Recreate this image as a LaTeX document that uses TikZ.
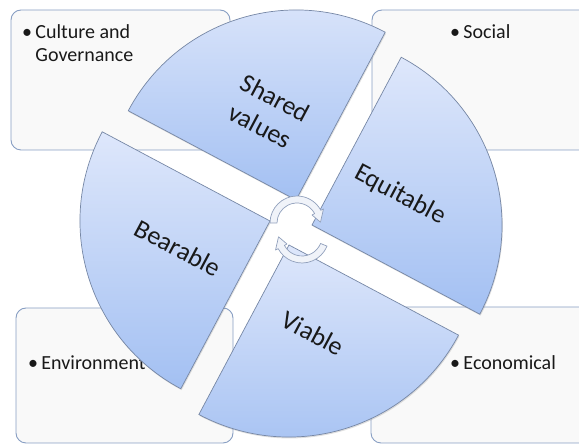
\documentclass[tikz,border=0pt]{standalone}
\usepackage{fontspec}
\setmainfont{Carlito}
\usetikzlibrary{calc,shadows}
\definecolor{boxline}{RGB}{135,158,195}
\definecolor{boxfill}{RGB}{249,249,249}
\definecolor{sectop}{RGB}{222,231,251}
\definecolor{secbot}{RGB}{163,192,242}
\definecolor{secline}{RGB}{118,135,165}
\definecolor{arrfill}{RGB}{240,243,249}
\definecolor{arrline}{RGB}{145,160,188}
\definecolor{txt}{RGB}{25,25,25}
\tikzset{
  cornerbox/.style={draw=boxline, fill=boxfill, line width=0.9pt, rounded corners=10pt},
  boxtext/.style={anchor=base west, inner sep=0pt, text=txt, font=\fontsize{20}{23.5}\selectfont, align=left},
  sector/.style={draw=secline, line width=0.7pt, top color=sectop, bottom color=secbot,
     drop shadow={shadow xshift=0.8pt, shadow yshift=-1.4pt, opacity=0.25}},
  seclabel/.style={rotate=-28, text=txt, font=\fontsize{26}{32}\selectfont, align=center, inner sep=0pt},
  cyclearrow/.style={draw=arrline, fill=arrfill, line width=0.7pt, line join=round}
}
\begin{document}
\begin{tikzpicture}[x=1pt,y=1pt]
\useasboundingbox (0,0) rectangle (579,444);
\clip (0,0) rectangle (579,444);
% corner boxes
\path[cornerbox] (11,294) rectangle (230,434);
\path[cornerbox] (372,294) rectangle (600,434);
\path[cornerbox] (16,1) rectangle (233,136);
\path[cornerbox] (371,1) rectangle (600,137);
\node[boxtext] (tl) at (22,382) {\textbullet\,Culture and\\\hphantom{\textbullet\,}Governance};
\node[boxtext] (tr) at (450,405) {\textbullet\,Social};
\node[boxtext] (bl) at (28,74) {\textbullet\,Environment};
\node[boxtext] (br) at (450,74) {\textbullet\,Economical};
% sectors
\coordinate (aS) at (296,244);
\coordinate (aE) at (312,219);
\coordinate (aV) at (289,199);
\coordinate (aB) at (270,223);
\path[sector] (aS) -- ++(62:190) arc[start angle=62, end angle=152, radius=190] -- cycle;
\path[sector] (aE) -- ++(-28:190) arc[start angle=-28, end angle=62, radius=190] -- cycle;
\path[sector] (aV) -- ++(-118:192) arc[start angle=-118, end angle=-28, radius=192] -- cycle;
\path[sector] (aB) -- ++(152:190) arc[start angle=152, end angle=242, radius=190] -- cycle;
\node[seclabel] (lS) at (268,332) {Shared\\values};
\node[seclabel] (lE) at (400,249) {Equitable};
\node[seclabel] (lB) at (178,196) {Bearable};
\node[seclabel] (lV) at (313,111) {Viable};
% cycle arrows
\coordinate (cu) at (297,221);
\coordinate (cl) at (302,208);
\path[cyclearrow] ($(cu)+(180:27)$) arc[start angle=180, end angle=28, radius=27]
  -- ($(cu)+(28:30)$) -- ($(cu)+(2:23.5)$) -- ($(cu)+(28:17)$) -- ($(cu)+(28:20)$)
  arc[start angle=28, end angle=180, radius=20] -- cycle;
\path[cyclearrow] ($(cl)+(-22:27)$) arc[start angle=-22, end angle=-152, radius=27]
  -- ($(cl)+(-152:30)$) -- ($(cl)+(-178:23.5)$) -- ($(cl)+(-152:17)$) -- ($(cl)+(-152:20)$)
  arc[start angle=-152, end angle=-22, radius=20] -- cycle;
\end{tikzpicture}
\end{document}
